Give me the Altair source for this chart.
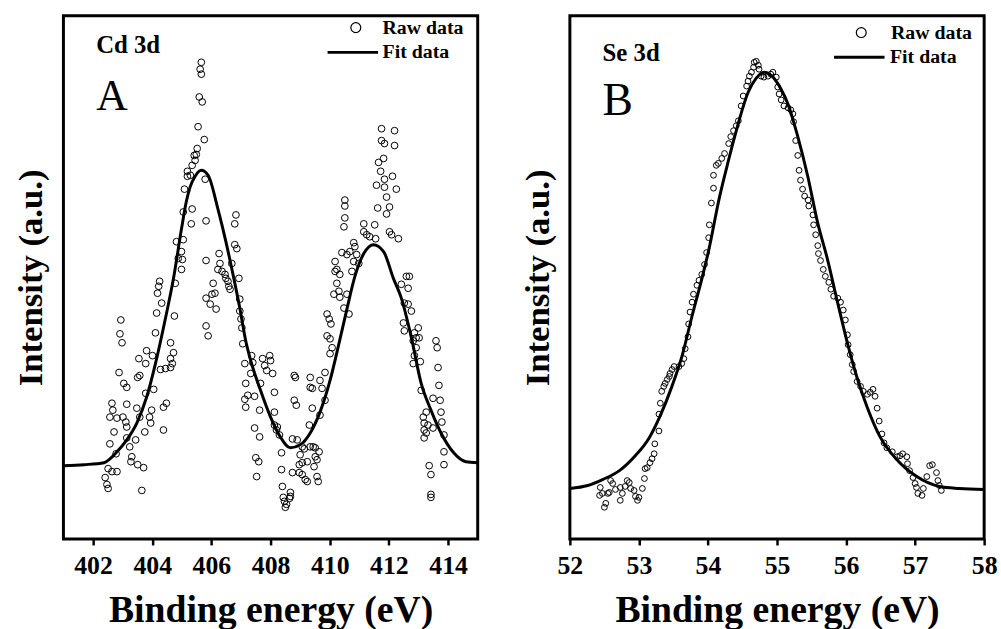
import altair as alt
import pandas as pd

FONT = "Liberation Serif"

# ---------------- Panel A : Cd 3d ----------------
cd_raw_energy = [
    402.41, 402.47, 402.51, 402.51, 402.64, 402.81, 402.57, 402.78, 402.71, 402.57,
    402.64, 402.67, 402.81, 403.01, 403.11, 403.14, 403.14, 403.14, 403.24, 403.31,
    403.28, 403.44, 403.51, 403.71, 403.65, 403.48, 403.58, 403.75, 403.98, 403.91,
    403.95, 404.38, 404.48, 404.38, 404.05, 403.78, 402.88, 403.04, 403.14, 403.58,
    403.51, 403.81, 403.55, 403.78, 404.01, 404.11, 402.94, 402.91, 402.98, 404.62,
    404.72, 404.62, 404.68, 404.62, 404.45, 404.28, 404.15, 404.75, 404.32, 404.18,
    404.22, 404.25, 404.78, 404.99, 404.99, 404.88, 405.02, 404.82, 405.05, 405.32,
    405.05, 405.35, 405.09, 405.19, 405.19, 405.35, 405.42, 405.66, 405.62, 405.66,
    405.59, 405.69, 405.55, 405.76, 405.52, 405.49, 405.45, 405.29, 405.79, 405.82,
    405.82, 406.83, 406.79, 406.79, 406.86, 406.26, 406.29, 406.22, 406.36, 406.46,
    406.49, 406.56, 406.59, 406.63, 406.69, 406.93, 406.06, 406.12, 406.02, 405.82,
    405.96, 406.16, 405.82, 405.89, 406.96, 406.96, 407.00, 407.03, 407.06, 407.36,
    407.40, 407.73, 407.80, 407.97, 408.00, 407.87, 408.07, 407.66, 408.13, 407.13,
    407.33, 407.16, 407.23, 407.46, 407.13, 407.16, 407.63, 408.13, 407.46, 407.63,
    407.50, 407.60, 407.53, 408.13, 408.23, 408.20, 408.30, 408.37, 408.37, 408.40,
    408.43, 408.47, 408.50, 408.54, 408.64, 408.67, 408.67, 408.74, 408.80, 408.84,
    408.80, 408.87, 408.74, 408.90, 409.07, 409.14, 409.00, 408.97, 409.07, 408.97,
    409.07, 409.17, 409.24, 409.24, 409.31, 409.41, 409.34, 409.34, 409.41, 409.34,
    409.44, 409.51, 409.64, 409.51, 409.57, 409.47, 409.57, 409.61, 409.67, 409.67,
    409.74, 409.84, 409.84, 409.91, 409.98, 410.04, 409.91, 410.01, 410.01, 410.08,
    410.48, 410.65, 410.51, 410.51, 410.51, 410.48, 410.18, 410.24, 410.18, 410.34,
    410.24, 410.14, 410.31, 410.34, 410.58, 410.81, 410.85, 410.68, 410.58, 410.41,
    410.91, 410.81, 410.98, 410.75, 411.15, 411.15, 411.25, 411.35, 411.52, 411.55,
    412.02, 412.09, 412.32, 411.75, 412.19, 411.75, 411.85, 412.19, 411.82, 411.65,
    411.72, 412.12, 411.85, 411.58, 411.85, 412.25, 411.92, 411.62, 412.02, 411.92,
    412.59, 412.69, 412.42, 412.65, 412.52, 412.65, 412.76, 412.49, 412.99, 412.86,
    412.92, 413.02, 412.52, 412.82, 412.92, 412.86, 413.06, 412.82, 413.59, 413.63,
    413.66, 413.69, 413.09, 413.49, 413.73, 413.76, 413.79, 413.26, 413.16, 413.19,
    413.32, 413.19, 413.26, 413.49, 413.19, 413.86, 413.86, 413.86, 413.36, 413.42,
    413.42, 413.42,
]
cd_raw_intensity = [
    62, 55, 51, 71, 68, 68, 96, 86, 108, 123,
    137, 130, 122, 123, 118, 113, 136, 102, 93, 83,
    78, 100, 75, 72, 49, 132, 123, 108, 130, 123,
    117, 110, 137, 133, 151, 147, 168, 157, 153, 165,
    163, 190, 182, 177, 185, 208, 221, 207, 198, 198,
    188, 182, 177, 173, 172, 171, 228, 225, 238, 248,
    255, 260, 258, 272, 290, 283, 282, 300, 302, 318,
    330, 333, 353, 366, 371, 377, 387, 481, 474, 469,
    446, 441, 416, 403, 394, 388, 382, 367, 363, 321,
    281, 327, 318, 297, 293, 288, 278, 272, 270, 267,
    263, 260, 255, 252, 278, 263, 258, 248, 247, 243,
    237, 232, 215, 205, 242, 230, 222, 213, 197, 185,
    178, 182, 175, 185, 180, 170, 167, 157, 148, 177,
    167, 157, 145, 144, 141, 133, 130, 128, 112, 103,
    82, 78, 63, 115, 113, 110, 105, 87, 70, 53,
    42, 38, 32, 35, 41, 47, 43, 67, 165, 163,
    140, 135, 101, 100, 93, 91, 85, 75, 77, 67,
    65, 60, 58, 78, 115, 132, 153, 163, 152, 93,
    93, 92, 88, 83, 80, 73, 63, 58, 125, 160,
    152, 168, 140, 227, 222, 217, 205, 202, 187, 193,
    233, 227, 342, 336, 324, 315, 280, 272, 270, 267,
    258, 247, 250, 244, 247, 299, 295, 290, 287, 289,
    287, 280, 278, 270, 318, 310, 307, 305, 317, 303,
    310, 307, 303, 414, 412, 402, 399, 397, 384, 380,
    371, 366, 363, 357, 355, 353, 345, 334, 335, 328,
    265, 265, 257, 253, 238, 237, 230, 218, 213, 208,
    203, 203, 210, 200, 193, 185, 179, 177, 200, 193,
    173, 155, 150, 142, 140, 128, 118, 128, 123, 117,
    115, 110, 107, 112, 102, 105, 88, 75, 74, 65,
    45, 42,
]
cd_fit_energy = [
    401.00, 401.70, 402.37, 402.81, 403.14, 403.48, 403.81, 404.11, 404.45, 404.72,
    404.99, 405.15, 405.28, 405.45, 405.66, 405.89, 406.22, 406.49, 406.73, 406.96,
    407.16, 407.33, 407.66, 408.00, 408.33, 408.67, 409.00, 409.34, 409.67, 410.01,
    410.24, 410.58, 410.85, 411.15, 411.48, 411.82, 412.15, 412.42, 412.76, 413.09,
    413.42, 413.76, 414.19, 414.60, 415.00,
]
cd_fit_intensity = [
    74, 75, 77, 88, 100, 117, 143, 177, 223, 263,
    313, 340, 355, 366, 372, 367, 333, 300, 267, 233,
    200, 180, 150, 123, 103, 92, 95, 107, 128, 160,
    188, 232, 265, 288, 297, 290, 263, 243, 203, 157,
    130, 107, 87, 78, 77,
]

# ---------------- Panel B : Se 3d ----------------
se_raw_energy = [
    52.43, 52.44, 52.47, 52.50, 52.52, 52.55, 52.57, 52.59, 52.62, 52.66,
    52.73, 52.76, 52.73, 52.80, 52.83, 52.86, 52.88, 52.93, 52.95, 52.98,
    53.00, 53.05, 53.08, 53.09, 53.12, 53.16, 53.19, 53.22, 53.23, 53.29,
    53.29, 53.31, 53.33, 53.36, 53.38, 53.41, 53.44, 53.45, 53.48, 53.51,
    53.58, 53.62, 53.65, 53.67, 53.71, 53.72, 53.74, 53.77, 53.79, 53.84,
    53.87, 53.91, 53.95, 53.98, 54.01, 54.02, 54.05, 54.08, 54.08, 54.12,
    54.15, 54.20, 54.24, 54.30, 54.33, 54.37, 54.41, 54.44, 54.48, 54.51,
    54.56, 54.58, 54.60, 54.63, 54.66, 54.67, 54.70, 54.73, 54.74, 54.77,
    54.81, 54.87, 54.91, 54.94, 54.99, 55.01, 55.03, 55.06, 55.10, 55.16,
    55.20, 55.23, 55.24, 55.27, 55.30, 55.32, 55.34, 55.37, 55.40, 55.45,
    55.46, 55.52, 55.53, 55.56, 55.59, 55.60, 55.63, 55.67, 55.70, 55.75,
    55.78, 55.82, 55.88, 55.92, 55.96, 55.99, 56.02, 56.03, 56.06, 56.09,
    56.11, 56.16, 56.21, 56.25, 56.31, 56.35, 56.39, 56.42, 56.45, 56.48,
    56.52, 56.55, 56.59, 56.67, 56.74, 56.78, 56.82, 56.88, 56.89, 56.92,
    56.97, 57.00, 57.02, 57.04, 57.10, 57.12, 57.17, 57.21, 57.25, 57.31,
    57.33, 57.35, 57.38,
]
se_raw_intensity = [
    44, 52, 46, 32, 36, 46, 47, 59, 56, 50,
    39, 46, 52, 53, 59, 57, 51, 49, 43, 39,
    42, 51, 61, 71, 72, 77, 81, 86, 96, 109,
    126, 137, 149, 154, 157, 161, 164, 167, 171, 174,
    174, 177, 182, 192, 204, 217, 229, 239, 247, 256,
    261, 267, 277, 289, 304, 317, 339, 354, 367, 377,
    379, 384, 389, 399, 406, 412, 417, 422, 437, 447,
    457, 462, 467, 471, 476, 481, 482, 478, 474, 467,
    466, 467, 469, 471, 466, 456, 449, 443, 437, 435,
    433, 429, 421, 402, 387, 372, 362, 353, 346, 342,
    336, 327, 317, 307, 296, 288, 281, 272, 265, 259,
    252, 245, 243, 239, 231, 221, 206, 196, 186, 176,
    169, 159, 154, 149, 146, 148, 151, 144, 132, 119,
    106, 97, 92, 88, 83, 84, 86, 83, 76, 69,
    62, 56, 52, 46, 44, 51, 63, 74, 75, 67,
    59, 54, 49,
]
se_fit_energy = [
    52.000, 52.258, 52.474, 52.718, 52.947, 53.148, 53.306, 53.478, 53.622, 53.766,
    53.909, 54.010, 54.167, 54.297, 54.383, 54.584, 54.699, 54.813, 54.928, 55.057,
    55.158, 55.301, 55.445, 55.589, 55.732, 55.876, 56.019, 56.163, 56.306, 56.493,
    56.737, 57.024, 57.354, 57.641, 58.000,
]
se_fit_intensity = [
    51, 54, 60, 69, 84, 102, 124, 154, 184, 224,
    262, 291, 345, 382, 405, 451, 465, 471, 467, 454,
    439, 406, 366, 319, 282, 239, 198, 162, 133, 103,
    80, 63, 53, 51, 50,
]

cd_ticks = [402, 404, 406, 408, 410, 412, 414]
se_ticks = [52, 53, 54, 55, 56, 57, 58]


def panel(raw_x, raw_y, fit_x, fit_y, domain, ticks, name, letter, letter_size,
          title_offset, sub_pad, point_size, raw_leg, fit_leg):
    raw = pd.DataFrame({"energy": raw_x, "intensity": raw_y, "raw": "Raw data"})
    fit = pd.DataFrame({"energy": fit_x, "intensity": fit_y, "fit": "Fit data"})

    x = alt.X(
        "energy:Q",
        scale=alt.Scale(domain=domain, nice=False, zero=False),
        axis=alt.Axis(
            values=ticks, format="d", title="Binding energy (eV)",
            grid=False, domain=False, ticks=True, tickSize=6, tickWidth=2.5,
            tickColor="black", labelFont=FONT, labelFontSize=26,
            labelFontWeight="bold", labelColor="black", labelPadding=8,
            labelFlush=False, labelOverlap=False, labelBound=False,
            titleFont=FONT, titleFontSize=38, titleFontWeight="bold",
            titleColor="black", titlePadding=13,
        ),
    )
    y = alt.Y(
        "intensity:Q",
        scale=alt.Scale(domain=[0, 528], nice=False, zero=False),
        axis=alt.Axis(
            title="Intensity (a.u.)", labels=False, ticks=False, domain=False,
            grid=False, titleFont=FONT, titleFontSize=35, titleFontWeight="bold",
            titleColor="black", titlePadding=15,
        ),
    )
    common = dict(title=None, orient="none", labelFont=FONT, labelFontSize=20,
                  labelFontWeight="bold", labelColor="black", padding=0)
    shape = alt.Shape(
        "raw:N",
        scale=alt.Scale(domain=["Raw data"], range=["circle"]),
        legend=alt.Legend(
            legendX=raw_leg[0], legendY=raw_leg[1], labelOffset=raw_leg[2],
            symbolSize=100, symbolStrokeColor="black", symbolFillColor="white",
            symbolStrokeWidth=1.2, symbolType="circle", **common,
        ),
    )
    color = alt.Color(
        "fit:N",
        scale=alt.Scale(domain=["Fit data"], range=["black"]),
        legend=alt.Legend(
            legendX=fit_leg[0], legendY=fit_leg[1], labelOffset=fit_leg[2],
            symbolType="stroke", symbolSize=2601, symbolStrokeWidth=3,
            symbolStrokeColor="black", **common,
        ),
    )

    line = alt.Chart(fit).mark_line(
        strokeWidth=3, interpolate="monotone"
    ).encode(x=x, y=y, color=color)
    points = alt.Chart(raw).mark_point(
        filled=False, color="black", strokeWidth=1, size=point_size, opacity=1
    ).encode(x=x, y=y, shape=shape)

    return alt.layer(line, points).resolve_scale(
        color="independent", shape="independent"
    ).properties(
        width=418,
        height=528,
        title=alt.TitleParams(
            text=name, subtitle=letter, anchor="start", frame="group",
            orient="top", offset=title_offset, dx=33, font=FONT, fontSize=25,
            fontWeight="bold", color="black", subtitleFont=FONT,
            subtitleFontSize=letter_size, subtitleFontWeight="normal",
            subtitleColor="black", subtitlePadding=sub_pad,
        ),
    )


left = panel(cd_raw_energy, cd_raw_intensity, cd_fit_energy, cd_fit_intensity,
             [401, 415], cd_ticks, "Cd 3d", "A", 44, -104, 17, 46,
             (285, 2, 17), (265, 10, 3))
right = panel(se_raw_energy, se_raw_intensity, se_fit_energy, se_fit_intensity,
              [52, 58], se_ticks, "Se 3d", "B", 46, -109, 13, 34,
              (284, 7, 20), (265, 15, 4))

chart = (
    alt.hconcat(left, right, spacing=33)
    .resolve_scale(shape="independent", color="independent",
                   x="independent", y="independent")
    .resolve_legend(shape="independent", color="independent")
    .properties(padding={"left": 12, "top": 11, "right": 2, "bottom": 0},
                background="white")
    .configure_view(stroke="black", strokeWidth=3)
)

chart.save("out.html", embed_options={"renderer": "svg", "actions": False})
